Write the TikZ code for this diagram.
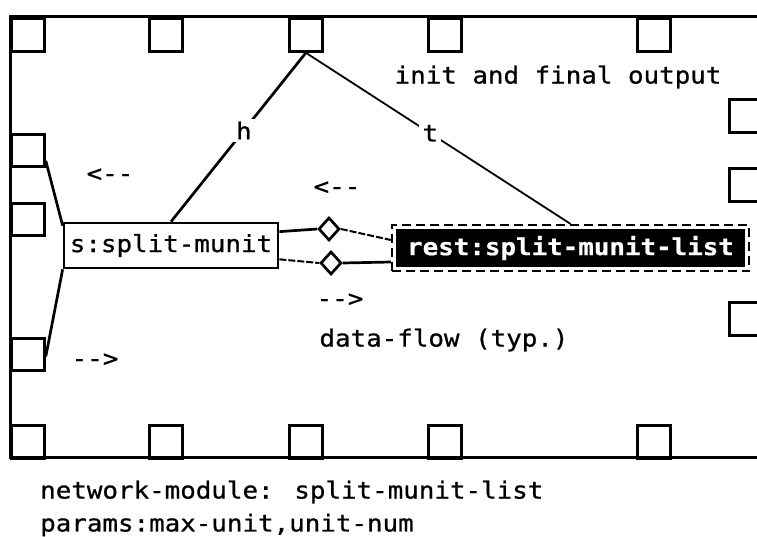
\documentclass[tikz,border=0pt]{standalone}
\usepackage{fontspec}
\newfontfamily\pix{DejaVu Sans Mono}[FakeStretch=1.1,FakeBold=0.8,Ligatures=TeXOff]
\usetikzlibrary{shapes.geometric,fit}
\begin{document}
\begin{tikzpicture}[x=1pt,y=-1pt,
 every node/.style={font=\pix\fontsize{23.5}{27}\selectfont},
 port/.style={draw,line width=2.8pt,minimum width=33pt,minimum height=33pt,inner sep=0pt,anchor=north west},
 frame/.style={line width=3pt},
 wire/.style={line width=2.7pt},
 thinwire/.style={line width=1.8pt},
 flowwire/.style={line width=2pt,dash pattern=on 7pt off 2pt},
 lbl/.style={inner sep=0pt},
 valve/.style={diamond,draw,line width=2.7pt,minimum width=21pt,minimum height=23pt,inner sep=0pt},
]
\useasboundingbox (0,0) rectangle (757,537);
\clip (0,0) rectangle (757,537);
\draw[frame] (760,17) -- (10,17) -- (10,457) -- (760,457);
\foreach \n/\x in {1/10,2/148,3/288,4/427,5/636} {
  \node[port] (t\n) at (\x,17) {};
  \node[port,minimum height=33pt] (b\n) at (\x,424) {};
}
\node[port,minimum height=32pt] (l1) at (10,133) {};
\node[port,minimum height=32pt] (l2) at (10,202) {};
\node[port,minimum height=32pt] (l3) at (10,337) {};
\node[port,minimum width=40pt] (r1) at (728,98) {};
\node[port,minimum width=40pt] (r2) at (728,167) {};
\node[port,minimum width=40pt] (r3) at (728,301) {};

\node[draw,line width=2.7pt,minimum width=214pt,minimum height=45pt,inner sep=2pt] (s) at (171,245.5) {s:split-munit};
\node[fill=black,text=white,font=\pix\fontsize{23.5}{27}\selectfont\bfseries,minimum width=349pt,minimum height=38pt,inner sep=0pt] (rest) at (570.5,248) {rest:split-munit-list};
\node[fit=(rest),inner sep=4pt,draw,line width=1.8pt,dash pattern=on 9pt off 5pt] (restf) {};

\node[valve] (v1) at (329,229) {};
\node[valve] (v2) at (331,263) {};

\draw[wire] ([yshift=-10pt]s.north east) -- (v1.west);
\draw[flowwire] (v1.east) -- ([yshift=8pt]restf.west);
\draw[flowwire] ([yshift=10pt]s.south east) -- (v2.west);
\draw[wire] (v2.east) -- ([yshift=-14pt]restf.west);

\draw[wire] (t3.south) -- node[fill=white,inner sep=3pt,pos=0.46] (hl) {h} (s.north);
\draw[thinwire] (t3.south) -- node[fill=white,inner sep=3pt,pos=0.47] (tl) {t} (restf.north);

\draw[wire] ([yshift=7pt]l1.south east) -- ([yshift=-4pt]s.north west);
\draw[wire] ([yshift=-2pt]l3.east) -- (s.south west);

\node[lbl] (a1) at (110,175) {<--};
\node[lbl] (a2) at (337,188) {<--};
\node[lbl] (a3) at (340,300) {-->};
\node[lbl] (a4) at (95,360) {-->};
\node[lbl] (df) at (444,340) {data-flow (typ.)};
\node[lbl] (io) at (558,77) {init and final output};
\node[lbl,anchor=west] (nm) at (40,492) {network-module: split-munit-list};
\node[lbl,anchor=west] (pm) at (40,525) {params:max-unit,unit-num};
\end{tikzpicture}
\end{document}
